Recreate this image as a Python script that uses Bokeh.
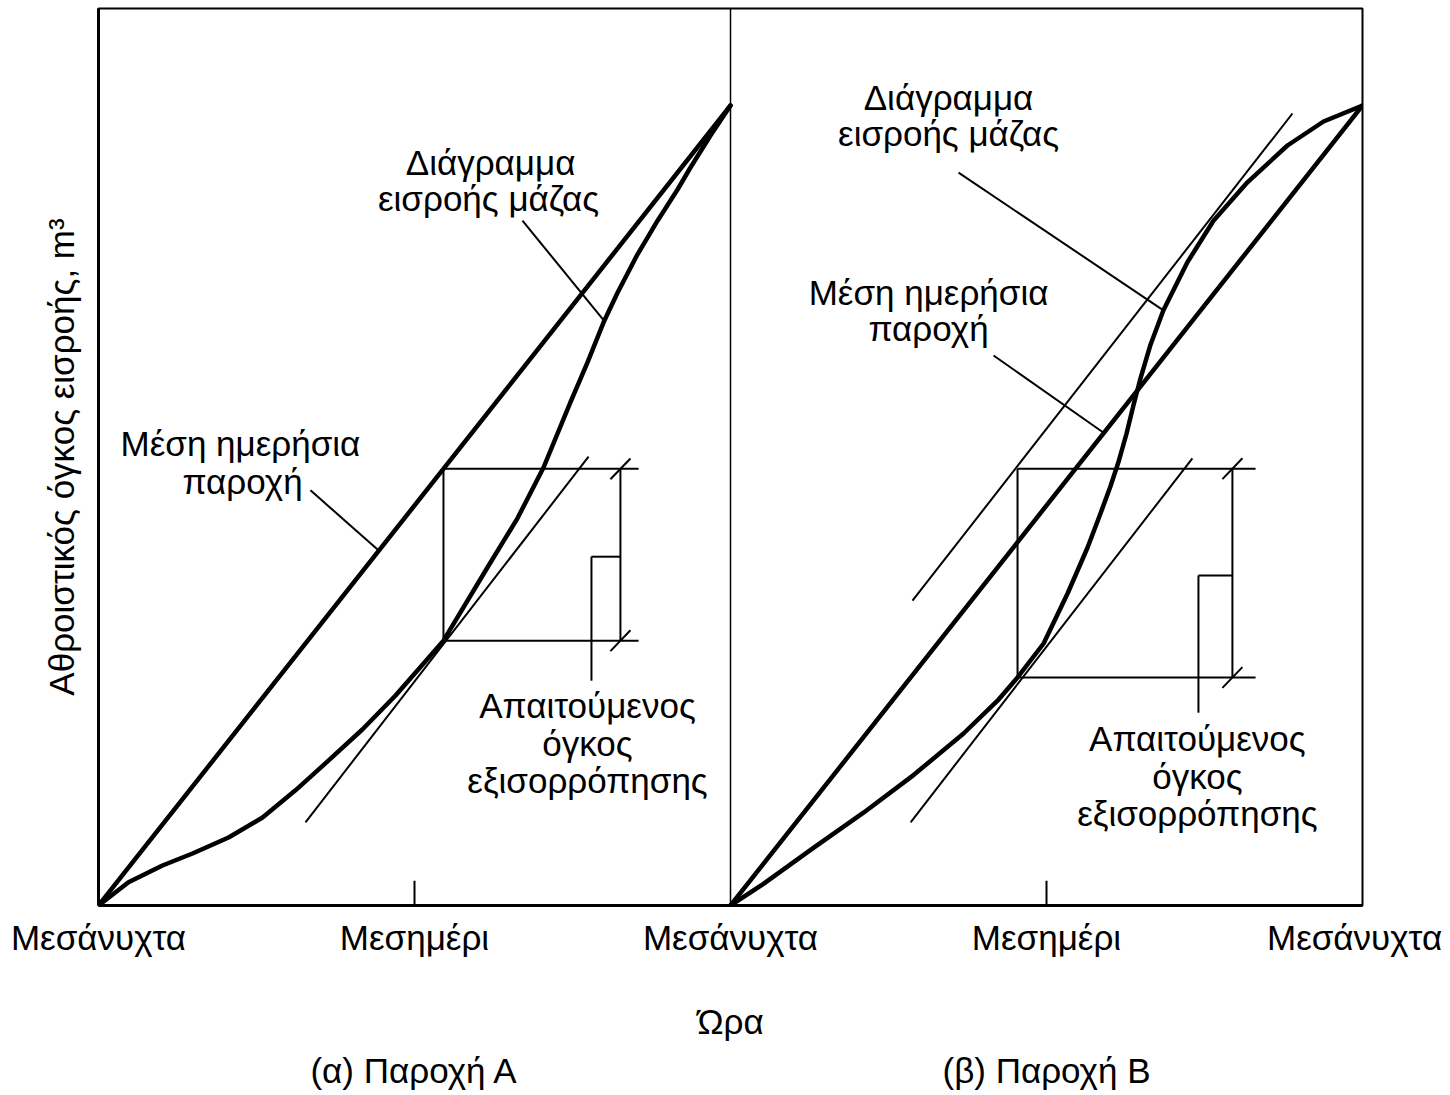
from bokeh.plotting import figure
from bokeh.models import Range1d, FixedTicker, LinearAxis
from bokeh.embed import file_html
from bokeh.resources import INLINE
from bokeh.core.properties import value

# ---------------- data (hours since midnight; cumulative inflow, relative units) ----------------
# Panel (a): hours 0..24, Panel (b): hours 24..48
mean_A_hours = [0, 24]
mean_A_vol = [0, 100]
mean_B_hours = [24, 48]
mean_B_vol = [0, 100]

mass_A_hours = [0, 1.14, 2.43, 3.57, 4.94, 6.23, 7.48, 8.73, 10.02, 11.28, 13.10,
                14.77, 15.91, 16.90, 17.92, 18.57, 19.18, 19.71, 20.47, 21.23, 21.99,
                22.48, 23.24, 24.0]
mass_A_vol = [0, 2.9, 5.0, 6.5, 8.5, 11.0, 14.4, 18.1, 22.0, 26.25, 33.1,
              42.25, 48.4, 54.75, 62.9, 67.9, 72.9, 76.6, 81.4, 85.6, 89.5,
              92.25, 96.25, 100]

mass_B_hours = [24, 25.25, 27.15, 29.05, 30.95, 32.85, 34.14, 34.90, 35.89, 36.80, 37.56,
                38.05, 38.43, 38.73, 39.04, 39.30, 39.57, 39.95, 40.44, 41.35, 42.34,
                43.63, 45.15, 46.52, 48.0]
mass_B_vol = [0, 2.7, 7.2, 11.6, 16.3, 21.5, 25.6, 28.5, 32.75, 39.0, 44.75,
              49.0, 52.4, 55.4, 59.0, 62.5, 65.9, 70.1, 74.4, 80.4, 85.6,
              90.4, 95.0, 98.0, 100]

# tangent lines (parallel to the mean daily flow)
tan_A_hours = [7.86, 18.61]
tan_A_vol = [10.4, 56.1]
tan_B_low_hours = [30.84, 41.54]
tan_B_low_vol = [10.4, 55.9]
tan_B_up_hours = [30.91, 45.34]
tan_B_up_vol = [38.1, 99.0]

# storage construction
touch_A_hour = 13.10     # tangent point on curve A
touch_B_hour = 34.90     # tangent point on curve B
store_A_bottom = 33.1
store_B_bottom = 28.5
store_B_top = 54.6

tick_labels = {0: "Μεσάνυχτα", 12: "Μεσημέρι", 24: "Μεσάνυχτα", 36: "Μεσημέρι", 47.7: "Μεσάνυχτα"}
panel_labels = {12: "(α) Παροχή Α", 36: "(β) Παροχή Β"}

FONT = "Liberation Sans"
FS = "35px"

p = figure(width=1450, height=1095, x_range=Range1d(0, 48), y_range=Range1d(0, 112.125),
           output_backend="svg", toolbar_location=None,
           min_border_left=98, min_border_right=88, min_border_top=8, min_border_bottom=190)
p.grid.visible = False
p.outline_line_color = "black"
p.outline_line_width = 2
p.background_fill_color = "white"
p.border_fill_color = "white"

# bottom axis with time labels
xa = p.xaxis[0]
xa.ticker = FixedTicker(ticks=list(tick_labels.keys()))
xa.major_label_overrides = tick_labels
xa.major_tick_out = 0
xa.major_tick_in = 0
xa.minor_tick_out = 0
xa.minor_tick_in = 0
xa.axis_line_width = 3
xa.major_label_text_font = FONT
xa.major_label_text_font_size = FS
xa.major_label_text_color = "black"
xa.major_label_standoff = 12
xa.axis_label = "Ώρα"
xa.axis_label_text_font = FONT
xa.axis_label_text_font_size = FS
xa.axis_label_text_font_style = "normal"
xa.axis_label_text_color = "black"
xa.axis_label_standoff = 42

xa2 = LinearAxis(ticker=FixedTicker(ticks=list(panel_labels.keys())),
                 major_label_overrides=panel_labels,
                 axis_line_color=None, major_tick_line_color=None, minor_tick_line_color=None,
                 major_tick_out=0, major_tick_in=0, minor_tick_out=0, minor_tick_in=0,
                 major_label_text_font=FONT, major_label_text_font_size=FS,
                 major_label_text_color="black", major_label_standoff=7)
p.add_layout(xa2, "below")

ya = p.yaxis[0]
ya.ticker = FixedTicker(ticks=[])
ya.major_tick_out = 0
ya.major_tick_in = 0
ya.minor_tick_out = 0
ya.minor_tick_in = 0
ya.major_label_standoff = 0
ya.axis_line_width = 3
ya.axis_label = "Αθροιστικός όγκος εισροής, m³"
ya.axis_label_text_font = FONT
ya.axis_label_text_font_size = FS
ya.axis_label_text_font_style = "normal"
ya.axis_label_text_color = "black"
ya.axis_label_standoff = 18

THIN = 2
THICK = 4.5

# panel divider and noon ticks
p.segment(x0=[24], y0=[0], x1=[24], y1=[112.125], line_color="black", line_width=1.5)
p.segment(x0=[12, 36], y0=[0, 0], x1=[12, 36], y1=[3.1, 3.1], line_color="black", line_width=2)

# ---- panel (a) construction ----
top_A = 100 * touch_A_hour / 24
rA_right, rA_end, rA_br = 19.82, 20.51, 18.72
p.segment(x0=[touch_A_hour, touch_A_hour, touch_A_hour, rA_right, rA_br, rA_br],
          y0=[top_A, top_A, store_A_bottom, top_A, 43.6, 43.6],
          x1=[touch_A_hour, rA_end, rA_end, rA_right, rA_br, rA_right],
          y1=[store_A_bottom, top_A, store_A_bottom, store_A_bottom, 28.1, 43.6],
          line_color="black", line_width=THIN)
# slashes
p.segment(x0=[rA_right - 0.38, rA_right - 0.38], y0=[top_A - 1.3, store_A_bottom - 1.3],
          x1=[rA_right + 0.38, rA_right + 0.38], y1=[top_A + 1.3, store_A_bottom + 1.3],
          line_color="black", line_width=THIN)
# leaders
p.segment(x0=[16.10, 8.05], y0=[85.6, 51.9], x1=[19.25, 10.63], y1=[72.9, 44.4],
          line_color="black", line_width=THIN)
p.line(tan_A_hours, tan_A_vol, line_color="black", line_width=THIN)

# ---- panel (b) construction ----
rB_right, rB_end, rB_br = 43.06, 43.94, 41.77
p.segment(x0=[touch_B_hour, touch_B_hour, touch_B_hour, rB_right, rB_br, rB_br],
          y0=[store_B_top, store_B_top, store_B_bottom, store_B_top, 41.25, 41.25],
          x1=[touch_B_hour, rB_end, rB_end, rB_right, rB_br, rB_right],
          y1=[store_B_bottom, store_B_top, store_B_bottom, store_B_bottom, 24.1, 41.25],
          line_color="black", line_width=THIN)
p.segment(x0=[rB_right - 0.38, rB_right - 0.38], y0=[store_B_top - 1.3, store_B_bottom - 1.3],
          x1=[rB_right + 0.38, rB_right + 0.38], y1=[store_B_top + 1.3, store_B_bottom + 1.3],
          line_color="black", line_width=THIN)
p.segment(x0=[32.66, 33.99], y0=[91.6, 68.75], x1=[40.44, 38.17], y1=[74.4, 59.1],
          line_color="black", line_width=THIN)
p.line(tan_B_low_hours, tan_B_low_vol, line_color="black", line_width=THIN)
p.line(tan_B_up_hours, tan_B_up_vol, line_color="black", line_width=THIN)

# thick curves
for hx, vy in [(mean_A_hours, mean_A_vol), (mass_A_hours, mass_A_vol),
               (mean_B_hours, mean_B_vol), (mass_B_hours, mass_B_vol)]:
    p.line(hx, vy, line_color="black", line_width=THICK, line_join="round", line_cap="round")

# annotations
ann_text = ["Διάγραμμα", "εισροής μάζας", "Μέση ημερήσια", "παροχή",
            "Απαιτούμενος", "όγκος", "εξισορρόπησης",
            "Διάγραμμα", "εισροής μάζας", "Μέση ημερήσια", "παροχή",
            "Απαιτούμενος", "όγκος", "εξισορρόπησης"]
ann_x = [14.89, 14.81, 5.39, 5.47, 18.57, 18.57, 18.57,
         32.28, 32.28, 31.52, 31.52, 41.73, 41.73, 41.73]
ann_y = [92.9, 88.4, 57.75, 53.0, 25.0, 20.25, 15.6,
         101.0, 96.5, 76.6, 72.1, 20.9, 16.1, 11.5]
p.text(x=ann_x, y=ann_y, text=ann_text, text_font=value(FONT), text_font_size=value(FS),
       text_align="center", text_baseline="middle", text_color="black")

open("out.html", "w").write(file_html(p, INLINE))
